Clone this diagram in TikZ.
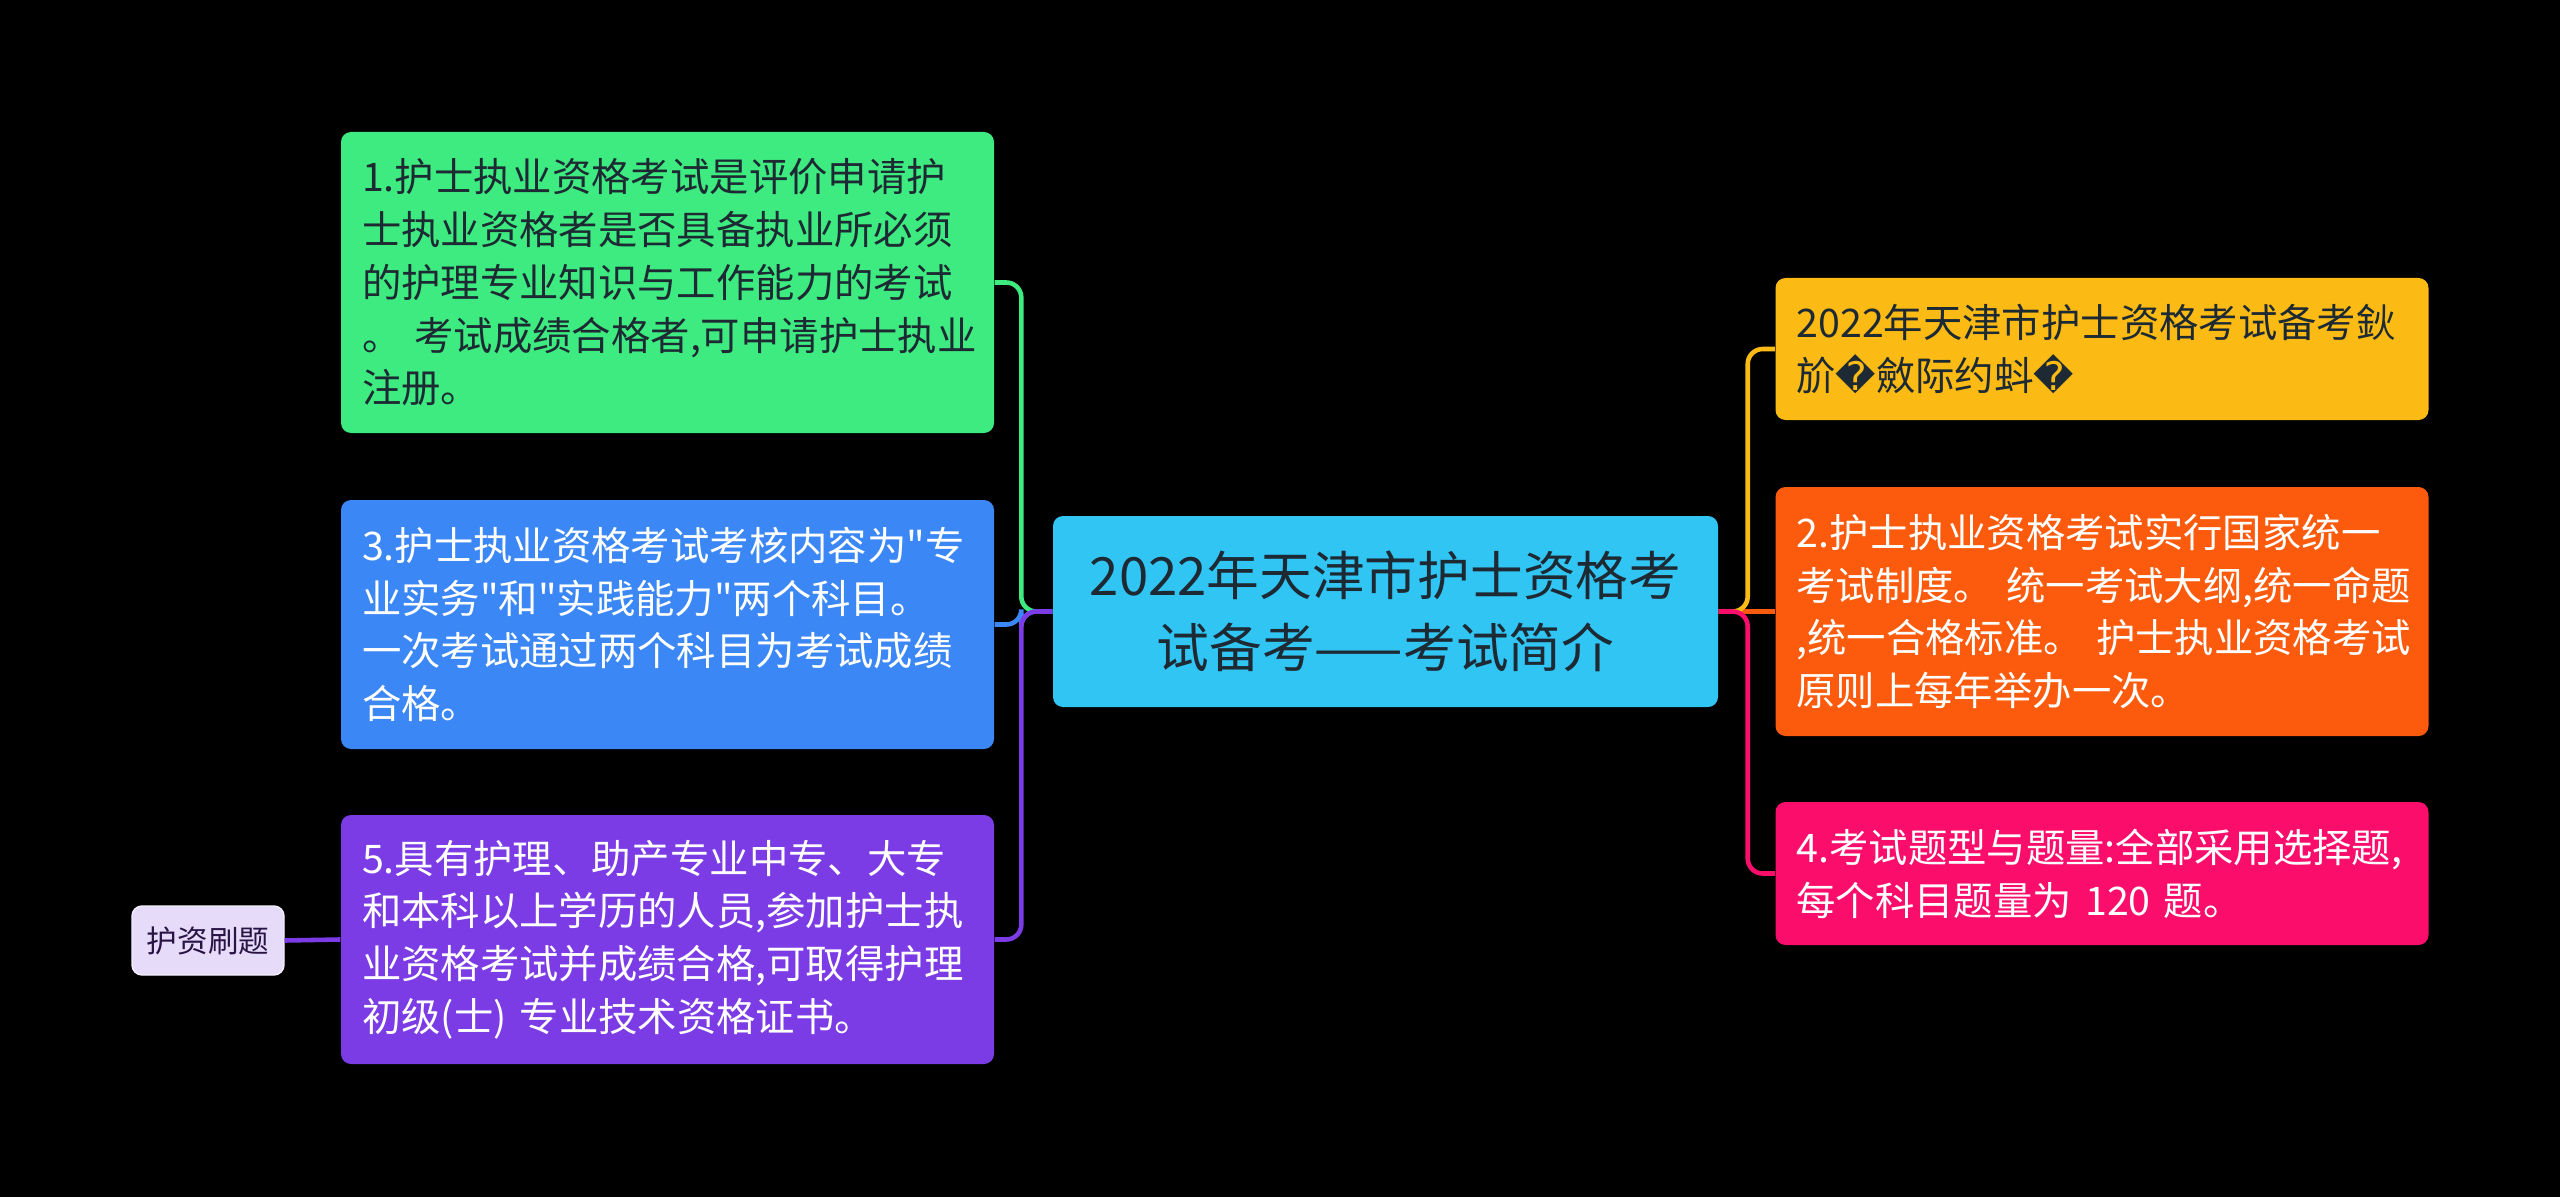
\documentclass[tikz,border=0pt]{standalone}
\usepackage{fontspec}
\setmainfont{Noto Sans CJK SC}[Ligatures=TeXOff]
\newfontfamily\symfont{DejaVu Sans}
\usetikzlibrary{positioning}
\definecolor{cmain}{HTML}{31C5F4}
\definecolor{cgreen}{HTML}{3DEB80}
\definecolor{cblue}{HTML}{3B87F5}
\definecolor{cpurple}{HTML}{7B3BE5}
\definecolor{cyellow}{HTML}{FBBB14}
\definecolor{corange}{HTML}{FC5A0C}
\definecolor{cpink}{HTML}{FB0E6B}
\definecolor{ctag}{HTML}{E6DBF8}
\definecolor{ctagline}{HTML}{F3EEFC}
\definecolor{ctagtxt}{HTML}{2A1446}
\definecolor{cdark}{HTML}{1E2A33}

\begin{document}
\begin{tikzpicture}[
  box/.style={rounded corners=1mm,inner xsep=2.1mm,inner ysep=0pt,align=left,
    text width=61.1mm,minimum height=#1,font=\fontsize{11.2}{15}\selectfont},
  root/.style={fill=cmain,text=cdark,rounded corners=1mm,minimum width=66.5mm,
    minimum height=19.1mm,align=center,font=\fontsize{15}{20.5}\selectfont},
  tag/.style={fill=ctag,draw=ctagline,line width=0.4pt,text=ctagtxt,rounded corners=1mm,
    minimum width=15.2mm,minimum height=6.9mm,font=\fontsize{8.7}{10}\selectfont},
  ln/.style={line width=1.3pt,rounded corners=1.5mm}]
\fill[black] (0,0) rectangle (25.6,11.97);
\useasboundingbox (0,0) rectangle (25.6,11.97);

\node[root] (c) at (13.855,5.855) {2022年天津市护士资格考\\试备考——考试简介};

\node[box=30.1mm,fill=cgreen,text=cdark] (n1) at (6.675,9.145) {1.护士执业资格考试是评价申请护\\士执业资格者是否具备执业所必须\\的护理专业知识与工作能力的考试\\。~考试成绩合格者,可申请护士执业\\注册。};
\node[box=24.9mm,fill=cblue,text=white] (n3) at (6.675,5.725) {3.护士执业资格考试考核内容为"专\\业实务"和"实践能力"两个科目。\\一次考试通过两个科目为考试成绩\\合格。};
\node[box=24.9mm,fill=cpurple,text=white] (n5) at (6.675,2.575) {5.具有护理、助产专业中专、大专\\和本科以上学历的人员,参加护士执\\业资格考试并成绩合格,可取得护理\\初级(士)~专业技术资格证书。};
\node[tag] (t1) at (2.08,2.565) {护资刷题};

\node[box=14.2mm,fill=cyellow,text=cdark] (n0) at (21.02,8.48) {2022年天津市护士资格考试备考鈥\\斺{\symfont �}斂际约蚪{\symfont �}};
\node[box=24.9mm,fill=corange,text=white] (n2) at (21.02,5.855) {2.护士执业资格考试实行国家统一\\考试制度。~统一考试大纲,统一命题\\,统一合格标准。~护士执业资格考试\\原则上每年举办一次。};
\node[box=14.3mm,fill=cpink,text=white] (n4) at (21.02,3.235) {4.考试题型与题量:全部采用选择题,\\每个科目题量为~120~题。};

\draw[ln,cgreen] (c.west) -- ++(-0.31,0) |- (n1.east);
\draw[ln,cblue] (c.west) -- ++(-0.31,0) |- (n3.east);
\draw[ln,cpurple] (c.west) -- ++(-0.31,0) |- (n5.east);
\draw[ln,cpurple] (n5.west) -- (t1.east);
\draw[ln,corange] (c.east) -- (n2.west);
\draw[ln,cyellow] (c.east) -- ++(0.29,0) |- (n0.west);
\draw[ln,cpink] (c.east) -- ++(0.29,0) |- (n4.west);
\end{tikzpicture}
\end{document}
